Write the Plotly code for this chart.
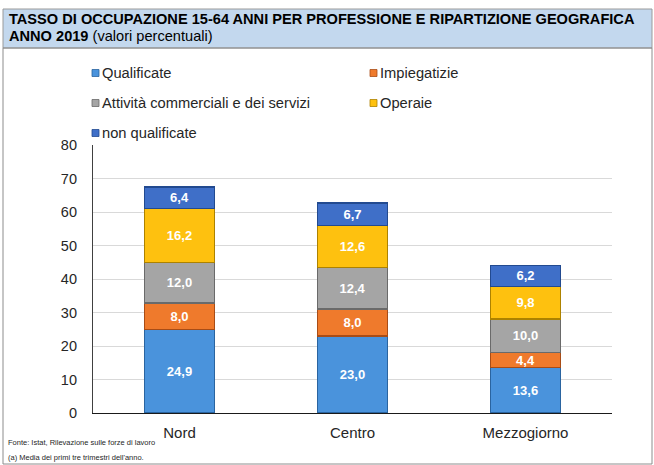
import plotly.graph_objects as go

# ---- data ----
regions = ["Nord", "Centro", "Mezzogiorno"]
series_names = ["Qualificate", "Impiegatizie", "Attività commerciali e dei servizi", "Operaie", "non qualificate"]
qualificate = [24.9, 23.0, 13.6]
impiegatizie = [8.0, 8.0, 4.4]
attivita = [12.0, 12.4, 10.0]
operaie = [16.2, 12.6, 9.8]
non_qualificate = [6.4, 6.7, 6.2]
y_ticks = [0, 10, 20, 30, 40, 50, 60, 70, 80]

title_line1 = "TASSO DI OCCUPAZIONE 15-64 ANNI PER PROFESSIONE E RIPARTIZIONE GEOGRAFICA"
title_line2 = "ANNO 2019 <span style='font-weight:normal'>(valori percentuali)</span>"
note1 = "Fonte: Istat, Rilevazione sulle forze di lavoro"
note2 = "(a) Media dei primi tre trimestri dell'anno."

fill_colors = ["#4a93dc", "#ef7a2c", "#a5a5a5", "#fec10f", "#3f6fc8"]
line_colors = ["#2a64a0", "#a84c16", "#6a6a6a", "#ad8200", "#224a90"]

FONT = "Liberation Sans, Arial, sans-serif"

# ---- geometry (pixels) ----
W, H = 654, 465
L, R, T, B = 93, 612, 145, 413


def px(x):
    return (x - L) / (R - L)


def py(y):
    return (B - y) / (B - T)


values = [qualificate, impiegatizie, attivita, operaie, non_qualificate]

fig = go.Figure()
for name, vals, fc, lc in zip(series_names, values, fill_colors, line_colors):
    fig.add_trace(go.Bar(
        x=regions, y=vals, name=name,
        marker=dict(color=fc, line=dict(color=lc, width=1.5)),
        texttemplate="%{y:.1f}", textposition="inside", insidetextanchor="middle",
        constraintext="none",
        textfont=dict(family=FONT, size=13, color="white", weight="bold"),
        showlegend=False,
    ))

shapes = []
annotations = []

# title box and outer frame
shapes.append(dict(type="rect", xref="paper", yref="paper", x0=px(3), x1=px(652), y0=py(9), y1=py(48),
                   fillcolor="#c3d8ee", line=dict(color="#9a9a9a", width=1), layer="below"))
shapes.append(dict(type="rect", xref="paper", yref="paper", x0=px(3), x1=px(652), y0=py(48), y1=py(464),
                   fillcolor="rgba(0,0,0,0)", line=dict(color="#8c8c8c", width=1), layer="below"))

annotations.append(dict(xref="paper", yref="paper", x=px(7), y=py(19.5), xanchor="left", yanchor="middle",
                        text="<b>" + title_line1 + "</b>", showarrow=False,
                        font=dict(family=FONT, size=14.6, color="#000000")))
annotations.append(dict(xref="paper", yref="paper", x=px(7), y=py(36), xanchor="left", yanchor="middle",
                        text="<b>" + title_line2 + "</b>", showarrow=False,
                        font=dict(family=FONT, size=14.6, color="#000000")))

# manual legend
legend_pos = [(92, 73), (370, 73), (92, 103), (370, 103), (92, 133)]
for name, fc, lc, (lx, ly) in zip(series_names, fill_colors, line_colors, legend_pos):
    shapes.append(dict(type="rect", xref="paper", yref="paper",
                       x0=px(lx), x1=px(lx + 7), y0=py(ly - 3.5), y1=py(ly + 3.5),
                       fillcolor=fc, line=dict(color=lc, width=0.8)))
    annotations.append(dict(xref="paper", yref="paper", x=px(lx + 8), y=py(ly), xanchor="left",
                            yanchor="middle", text=name, showarrow=False,
                            font=dict(family=FONT, size=14.7, color="#262626")))

# footnotes
annotations.append(dict(xref="paper", yref="paper", x=px(6), y=py(442), xanchor="left", yanchor="middle",
                        text=note1, showarrow=False,
                        font=dict(family=FONT, size=7.5, color="#262626")))
annotations.append(dict(xref="paper", yref="paper", x=px(6), y=py(457), xanchor="left", yanchor="middle",
                        text=note2, showarrow=False,
                        font=dict(family=FONT, size=7.5, color="#262626")))

fig.update_layout(
    width=W, height=H,
    margin=dict(l=L, r=W - R, t=T, b=H - B),
    barmode="stack", bargap=0.595,
    separators=",.",
    paper_bgcolor="white", plot_bgcolor="white",
    font=dict(family=FONT, size=14, color="#262626"),
    shapes=shapes, annotations=annotations,
    showlegend=False,
    xaxis=dict(showline=True, linecolor="#1a1a1a", linewidth=1.2, ticks="", ticklabelstandoff=6,
               tickfont=dict(size=15, color="#262626")),
    yaxis=dict(range=[0, 80], tickvals=y_ticks, showgrid=True, gridcolor="#d9d9d9", gridwidth=1,
               showline=True, linecolor="#404040", linewidth=1.2, zeroline=False,
               ticks="", ticklabelstandoff=12, tickfont=dict(size=14.5, color="#262626")),
)

fig.write_html("out.html", config={"displayModeBar": False},
               post_script="document.body.style.margin='0';document.body.style.padding='0';")
